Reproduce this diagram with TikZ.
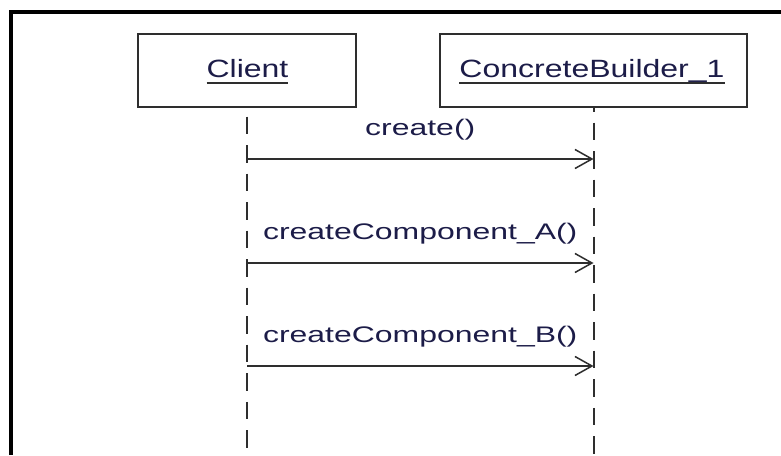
\documentclass[tikz,border=0pt]{standalone}
\usepackage{fontspec}
\usetikzlibrary{arrows.meta}
\newfontfamily\objfont[FakeStretch=1.28]{Liberation Sans}
\newfontfamily\msgfont[FakeStretch=1.42]{Liberation Sans}
\definecolor{ink}{HTML}{1C1C48}
\definecolor{lineG}{HTML}{2E2E2E}
\tikzset{
  objbox/.style={draw=lineG, line width=1.5pt, fill=white, minimum height=73pt, inner sep=0pt},
  objname/.style={font=\objfont\fontsize{25}{30}\selectfont, text=ink, inner sep=0pt, outer sep=0pt},
  msgname/.style={font=\msgfont\fontsize{22.5}{27}\selectfont, text=ink, inner sep=0pt},
  lifeline/.style={draw=lineG, line width=2pt, dash pattern=on 17.5pt off 11pt},
  msgarrow/.style={draw=lineG, line width=1.5pt, -{Straight Barb[length=17pt, width=19pt, line width=1.5pt]}},
  nameline/.style={draw=lineG, line width=1.2pt}
}

\begin{document}
\begin{tikzpicture}[x=1pt,y=1pt]
\useasboundingbox (0,0) rectangle (781,455);
\fill[white] (0,0) rectangle (781,455);
\draw[line width=4pt] (11,0) -- (11,443) -- (781,443);

\node[objbox, minimum width=218pt] (client) at (247,384.5) {};
\node[objbox, minimum width=307pt] (builder) at (593.5,384.5) {};
\node[objname, anchor=base] (clientname) at (247.5,377) {Client};
\node[objname, anchor=base] (buildername) at (592,377) {ConcreteBuilder\_1};
\draw[nameline] ([yshift=-5pt]clientname.base west) -- ([yshift=-5pt]clientname.base east);
\draw[nameline] ([yshift=-5pt]buildername.base west) -- ([yshift=-5pt]buildername.base east);

\coordinate (clientend) at (247,0);
\coordinate (builderend) at (593.5,0);
\draw[lifeline, dash phase=19.5pt] (client.south) -- (clientend);
\draw[lifeline, dash phase=13.5pt] (builder.south) -- (builderend);

\coordinate (createL) at (247,296);
\coordinate (createR) at (593.5,296);
\coordinate (compAL) at (247,192);
\coordinate (compAR) at (593.5,192);
\coordinate (compBL) at (247,89);
\coordinate (compBR) at (593.5,89);

\draw[msgarrow] (createL) -- node[msgname, midway, anchor=base, yshift=23.5pt] (createmsg) {create()} (createR);
\draw[msgarrow] (compAL) -- node[msgname, midway, anchor=base, yshift=23.5pt] (compAmsg) {createComponent\_A()} (compAR);
\draw[msgarrow] (compBL) -- node[msgname, midway, anchor=base, yshift=23.5pt] (compBmsg) {createComponent\_B()} (compBR);

\end{tikzpicture}
\end{document}
